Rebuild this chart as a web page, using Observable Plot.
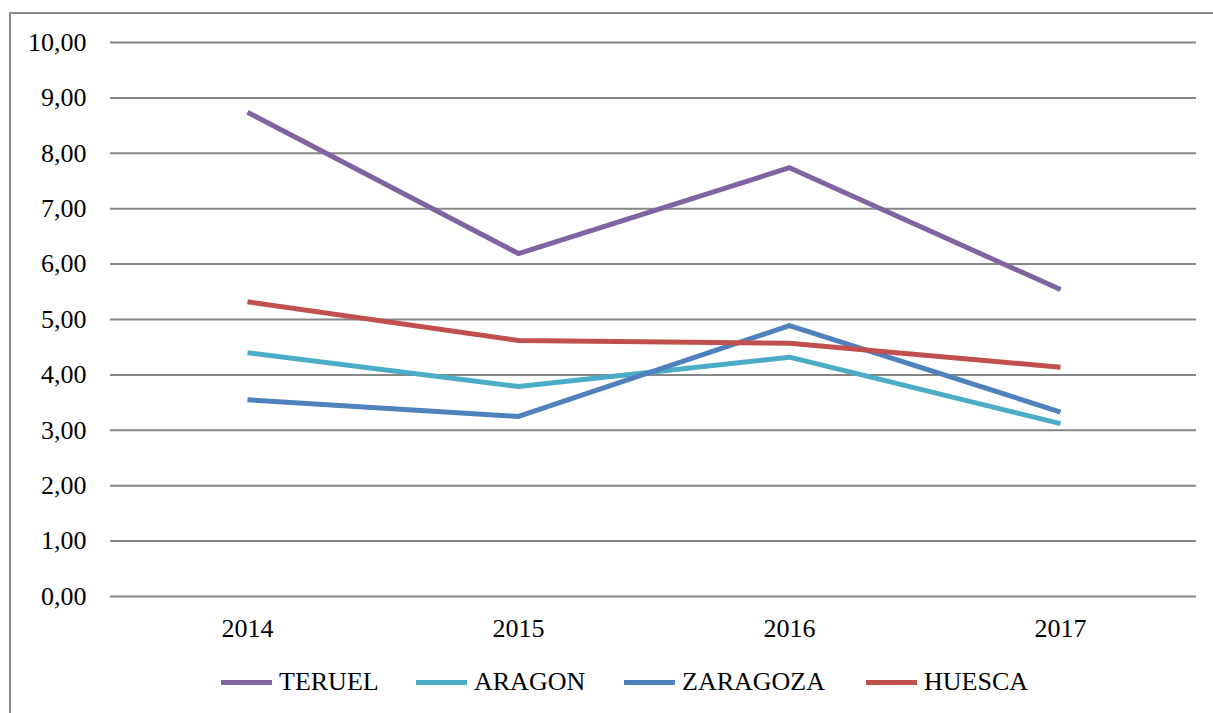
<!DOCTYPE html>
<html>
<head>
<meta charset="utf-8">
<script src="https://cdn.jsdelivr.net/npm/d3@7"></script>
<script src="https://cdn.jsdelivr.net/npm/@observablehq/plot@0.6"></script>
<style>
  html, body { margin: 0; padding: 0; background: #fff; }
  body { width: 1213px; height: 713px; position: relative; overflow: hidden; font-family: "Liberation Serif", "DejaVu Serif", serif; }
  #frame { position: absolute; left: 9px; top: 12px; width: 1210px; height: 740px; border: 2px solid #8a8a8a; box-sizing: border-box; }
  #chart { position: absolute; left: 0; top: 0; }
  #legend { position: absolute; left: 0; top: 664px; width: 1213px; height: 40px; }
  .item { position: absolute; top: 0; height: 36px; display: flex; align-items: center; font-size: 26px; color: #000; }
  .sw { width: 51px; height: 5px; margin-right: 7px; }
</style>
</head>
<body>
<div id="frame"></div>
<div id="chart"></div>
<div id="legend"></div>
<script>
const years = ["2014", "2015", "2016", "2017"];
const seriesNames = ["TERUEL", "ARAGON", "ZARAGOZA", "HUESCA"];
const seriesColors = ["#8064A2", "#4BACC6", "#4F81BD", "#C0504D"];
const teruel = [8.74, 6.19, 7.74, 5.54];
const aragon = [4.40, 3.79, 4.32, 3.12];
const zaragoza = [3.55, 3.25, 4.89, 3.33];
const huesca = [5.32, 4.62, 4.57, 4.14];
const yTicks = [0, 1, 2, 3, 4, 5, 6, 7, 8, 9, 10];
const legendLeft = [221, 416, 624, 866];

const seriesValues = [teruel, aragon, zaragoza, huesca];
const data = [];
seriesNames.forEach((name, i) => {
  years.forEach((yr, j) => data.push({series: name, year: yr, value: seriesValues[i][j]}));
});

const fmt = d => d.toFixed(2).replace(".", ",");
const FONT = "'Liberation Serif', 'DejaVu Serif', serif";

const chart = Plot.plot({
  width: 1213,
  height: 640,
  marginLeft: 110,
  marginRight: 17,
  marginTop: 42,
  marginBottom: 44,
  style: {fontFamily: FONT, fontSize: "26px", color: "#000", background: "transparent", overflow: "visible"},
  x: {type: "point", domain: years, padding: 0.5, label: null},
  y: {domain: [0, 10], label: null},
  color: {domain: seriesNames, range: seriesColors},
  marks: [
    Plot.ruleY(yTicks, {stroke: "#868686", strokeWidth: 2}),
    Plot.ruleX([0], {x: () => null, frameAnchor: "left", stroke: "#868686", strokeWidth: 2, y1: 0, y2: 10}),
    Plot.axisY(yTicks, {tickSize: 0, tickPadding: 24, tickFormat: fmt, fill: "#000", fontSize: 26, fontFamily: FONT}),
    Plot.axisX({tickSize: 0, tickPadding: 22, fill: "#000", fontSize: 26, fontFamily: FONT}),
    Plot.line(data, {x: "year", y: "value", z: "series", stroke: "series", strokeWidth: 5, strokeLinejoin: "round", strokeLinecap: "butt"})
  ]
});
document.getElementById("chart").appendChild(chart);

const legend = document.getElementById("legend");
seriesNames.forEach((name, i) => {
  const item = document.createElement("div");
  item.className = "item";
  item.style.left = legendLeft[i] + "px";
  const sw = document.createElement("div");
  sw.className = "sw";
  sw.style.background = seriesColors[i];
  const t = document.createElement("span");
  t.textContent = name;
  item.appendChild(sw);
  item.appendChild(t);
  legend.appendChild(item);
});
</script>
</body>
</html>
